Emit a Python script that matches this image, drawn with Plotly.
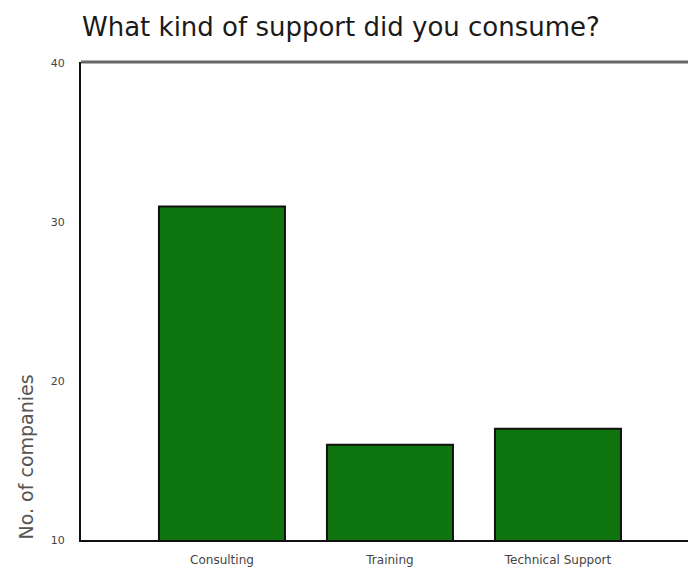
import plotly.graph_objects as go

categories = ["Consulting", "Training", "Technical Support"]
values = [31, 16, 17]
y_ticks = [10, 20, 30, 40]

W, H = 688, 568
L, R, T, B = 81, 0, 62, 28

fig = go.Figure()
fig.add_trace(go.Bar(
    x=categories, y=values,
    width=0.75,
    marker=dict(color="#0f760f", line=dict(color="#111111", width=2)),
))

fig.update_layout(
    width=W, height=H,
    margin=dict(l=L, r=R, t=T, b=B, pad=0),
    paper_bgcolor="white", plot_bgcolor="white",
    showlegend=False,
    font=dict(family="DejaVu Sans, Liberation Sans, Arial, sans-serif"),
    title=dict(text="What kind of support did you consume?",
               x=82 / W, xanchor="left", y=1 - 27 / H, yanchor="middle",
               font=dict(size=26, color="#1a1a1a")),
)
fig.update_xaxes(
    range=[-0.839, 2.774],
    showline=True, linecolor="#111111", linewidth=2,
    showgrid=False, ticks="outside", ticklen=8, tickcolor="rgba(0,0,0,0)",
    tickfont=dict(size=12, color="#444444"),
)
fig.update_yaxes(
    range=[10, 40.1],
    tickvals=y_ticks,
    showline=True, linecolor="#111111", linewidth=2,
    showgrid=False, zeroline=False, ticks="outside", ticklen=12,
    tickcolor="rgba(0,0,0,0)",
    tickfont=dict(size=11, color="#444444"),
)
fig.add_shape(type="line", xref="paper", yref="paper", x0=0, x1=1, y0=1, y1=1,
              line=dict(color="#666666", width=3))
fig.add_annotation(text="No. of companies", xref="paper", yref="paper",
                   x=-56 / (W - L - R), y=-2 / (H - T - B), xanchor="center", yanchor="bottom",
                   textangle=-90, showarrow=False,
                   font=dict(size=19, color="#555555"))

fig.write_html("out.html", config={"displayModeBar": False},
               post_script="document.body.style.margin='0';")
